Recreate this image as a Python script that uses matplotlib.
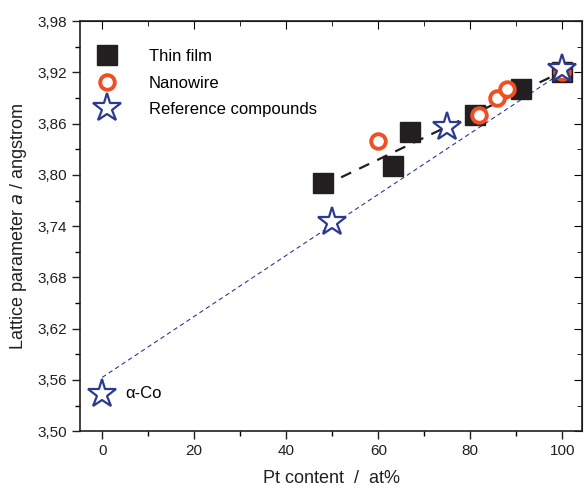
import matplotlib.pyplot as plt
import numpy as np
from matplotlib.ticker import MultipleLocator, FixedLocator, FuncFormatter

plt.rcParams['font.family'] = ['Liberation Sans', 'DejaVu Sans']

# thin film
film_x = [48, 63.3, 67, 81, 91, 100]
film_y = [3.79, 3.81, 3.85, 3.87, 3.90, 3.92]
# nanowire
wire_x = [60, 82, 85.7, 88, 100]
wire_y = [3.84, 3.87, 3.89, 3.90, 3.92]
# reference compounds
ref_x = [0, 50, 75, 100]
ref_y = [3.544, 3.745, 3.856, 3.924]
# Vegard line
veg_x = [0, 100]
veg_y = [3.563, 3.92]

yticks = np.round(np.arange(3.50, 3.981, 0.06), 2)
yminor = np.round(np.arange(3.53, 3.98, 0.06), 2)

fig = plt.figure(figsize=(5.85, 4.9), dpi=100)
ax = fig.add_axes([0.137, 0.12, 0.858, 0.837])

# linear fit through thin film
p = np.polyfit(film_x, film_y, 1)
xf = np.array([film_x[0], film_x[-1]])
ax.plot(xf, np.polyval(p, xf), color='#231F20', linestyle=(0, (5, 4)), linewidth=1.6, zorder=1)
ax.plot(veg_x, veg_y, color='#2B3990', linestyle=(0, (4, 3)), linewidth=0.8, zorder=1)

ax.plot(film_x, film_y, 's', color='#231F20', markersize=14, linestyle='none', label='Thin film', zorder=2)
ax.plot(wire_x, wire_y, 'o', markerfacecolor='white', markeredgecolor='#F04E23', markeredgewidth=2.8,
        markersize=10.5, linestyle='none', label='Nanowire', zorder=3)
ax.plot(ref_x, ref_y, '*', markerfacecolor='white', markeredgecolor='#2B3990', markeredgewidth=1.6,
        markersize=21, linestyle='none', label='Reference compounds', zorder=4)

ax.text(5.0, 3.544, 'α-Co', fontsize=12, va='center', ha='left')

ax.set_xlim(-4.8, 104.3)
ax.set_ylim(3.50, 3.98)
ax.xaxis.set_major_locator(MultipleLocator(20))
ax.xaxis.set_minor_locator(MultipleLocator(10))
ax.yaxis.set_major_locator(FixedLocator(yticks))
ax.yaxis.set_minor_locator(FixedLocator(yminor))
ax.yaxis.set_major_formatter(FuncFormatter(lambda v, pos: ('%.2f' % v).replace('.', ',')))

ax.tick_params(axis='both', which='both', direction='out', labelsize=11, top=False, right=False)
ax.tick_params(which='major', length=6, width=1)
ax.tick_params(which='minor', length=3.5, width=1)
ax.tick_params(axis='both', which='major', colors='#231F20', labelcolor='#231F20')

# inward ticks on top and right
axt = ax.secondary_xaxis('top')
axt.xaxis.set_major_locator(MultipleLocator(20))
axt.xaxis.set_minor_locator(MultipleLocator(10))
axt.tick_params(which='both', direction='in', labeltop=False)
axt.tick_params(which='major', length=6)
axt.tick_params(which='minor', length=3.5)
axr = ax.secondary_yaxis('right')
axr.yaxis.set_major_locator(FixedLocator(yticks))
axr.yaxis.set_minor_locator(FixedLocator(yminor))
axr.tick_params(which='both', direction='in', labelright=False)
axr.tick_params(which='major', length=6)
axr.tick_params(which='minor', length=3.5)

for s in ax.spines.values():
    s.set_linewidth(1.2)
    s.set_color('#231F20')

ax.set_xlabel('Pt content  /  at%', fontsize=13, color='#231F20', labelpad=8)
ax.set_ylabel('Lattice parameter $a$ / angstrom', fontsize=13, color='#231F20', labelpad=6)

ax.legend(loc='upper left', frameon=False, fontsize=12, bbox_to_anchor=(-0.022, 0.985),
          handletextpad=1.5, labelspacing=0.7, borderpad=0.8)

plt.savefig('out.png', dpi=100)
